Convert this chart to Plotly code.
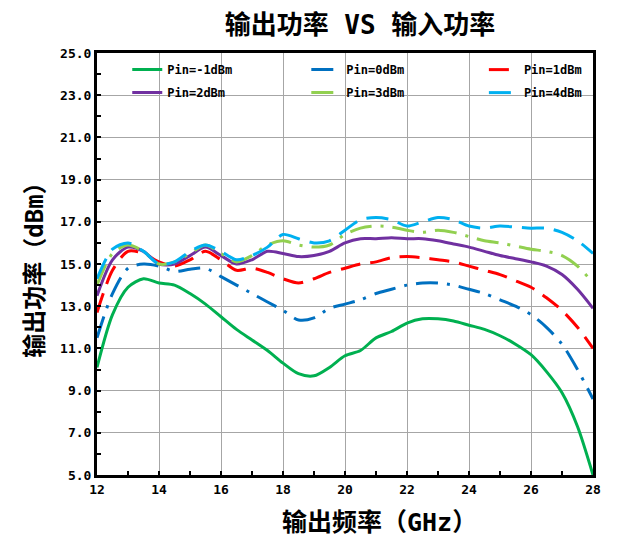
import plotly.graph_objects as go

freq = [12, 12.5, 13, 13.5, 14, 14.5, 15, 15.5, 16, 16.5, 17, 17.5, 18, 18.5, 19, 19.5,
        20, 20.5, 21, 21.5, 22, 22.5, 23, 23.5, 24, 24.5, 25, 25.5, 26, 26.5, 27, 27.5, 28]

pin_m1 = [10.1, 12.6, 13.9, 14.3, 14.1, 14.0, 13.6, 13.1, 12.5, 11.9, 11.4, 10.9, 10.3, 9.8, 9.7, 10.1,
          10.65, 10.9, 11.5, 11.8, 12.2, 12.4, 12.4, 12.3, 12.1, 11.9, 11.6, 11.2, 10.7, 9.9, 8.9, 7.3, 5.0]
pin_0 = [11.5, 13.6, 14.8, 15.0, 14.9, 14.65, 14.75, 14.8, 14.4, 14.0, 13.6, 13.2, 12.8, 12.35, 12.45, 12.9,
         13.1, 13.3, 13.6, 13.8, 14.0, 14.1, 14.1, 14.0, 13.8, 13.6, 13.3, 13.0, 12.6, 12.0, 11.2, 10.0, 8.6]
pin_1 = [12.7, 14.7, 15.6, 15.5, 15.1, 14.9, 15.2, 15.6, 15.2, 14.7, 14.8, 14.6, 14.3, 14.1, 14.3, 14.6,
         14.8, 15.0, 15.1, 15.3, 15.35, 15.3, 15.2, 15.1, 14.9, 14.7, 14.5, 14.2, 13.9, 13.4, 12.8, 12.0, 11.0]
pin_2 = [13.5, 15.2, 15.8, 15.6, 15.0, 15.0, 15.4, 15.8, 15.4, 15.0, 15.2, 15.6, 15.5, 15.35, 15.4, 15.6,
         16.0, 16.2, 16.2, 16.25, 16.2, 16.2, 16.1, 15.95, 15.8, 15.6, 15.4, 15.25, 15.1, 14.9, 14.5, 13.8, 12.9]
pin_3 = [14.0, 15.5, 15.9, 15.6, 15.0, 15.1, 15.5, 15.9, 15.5, 15.1, 15.4, 15.9, 16.1, 15.9, 15.8, 15.9,
         16.4, 16.7, 16.8, 16.75, 16.6, 16.5, 16.6, 16.5, 16.3, 16.1, 16.0, 15.85, 15.7, 15.6, 15.4, 14.9, 14.1]
pin_4 = [14.3, 15.7, 16.0, 15.6, 15.0, 15.1, 15.6, 15.9, 15.6, 15.2, 15.4, 15.8, 16.4, 16.2, 16.0, 16.1,
         16.6, 17.1, 17.2, 17.1, 16.8, 17.0, 17.2, 17.1, 16.8, 16.7, 16.8, 16.75, 16.7, 16.7, 16.5, 16.1, 15.5]

names = ["Pin=-1dBm", "Pin=0dBm", "Pin=1dBm", "Pin=2dBm", "Pin=3dBm", "Pin=4dBm"]
series = [pin_m1, pin_0, pin_1, pin_2, pin_3, pin_4]
colors = ["#00B050", "#0070C0", "#FF0000", "#7030A0", "#92D050", "#00B0F0"]
dashes = ["solid", "22px,9px,3px,9px", "20px,10px", "solid", "22px,9px,3px,9px", "22px,10px"]
legends = ["legend", "legend2", "legend3", "legend", "legend2", "legend3"]

y_ticks = [5, 7, 9, 11, 13, 15, 17, 19, 21, 23, 25]
x_ticks = [12, 14, 16, 18, 20, 22, 24, 26, 28]

FONT = "DejaVu Sans Mono, Noto Sans CJK SC, sans-serif"

fig = go.Figure()
for i, (n, s) in enumerate(zip(names, series)):
    fig.add_trace(go.Scatter(
        x=freq, y=s, name=n, mode="lines",
        line=dict(color=colors[i], width=3, dash=dashes[i], shape="spline", smoothing=0.8),
        legend=legends[i], legendgroup=n,
    ))

leg_common = dict(
    bgcolor="rgba(0,0,0,0)", orientation="v", y=0.995, yanchor="top", xanchor="left",
    font=dict(family=FONT, size=12, color="#000", weight="bold"), tracegroupgap=4,
)

fig.update_layout(
    width=633, height=538,
    margin=dict(l=89, r=48, t=45, b=71),
    paper_bgcolor="white", plot_bgcolor="white",
    title=dict(text="输出功率 VS 输入功率", x=0.556, xanchor="center",
               y=0.968, yanchor="middle",
               font=dict(family=FONT, size=26, color="#000", weight="bold")),
    legend=dict(x=0.061, **leg_common),
    legend2=dict(x=0.422, **leg_common),
    legend3=dict(x=0.780, **leg_common),
    showlegend=True,
    annotations=[dict(
        text="输出频率（GHz）", xref="paper", yref="paper", x=0.5705, y=0,
        xanchor="center", yanchor="middle", yshift=-47, showarrow=False,
        font=dict(family=FONT, size=25, color="#000", weight="bold"),
    )],
)

fig.update_xaxes(
    range=[12, 28], tickvals=x_ticks, automargin=False,
    showgrid=True, gridcolor="#A6A6A6", gridwidth=1,
    showline=True, linecolor="#000", linewidth=3, mirror=True,
    ticks="inside", ticklen=4, tickcolor="#000", tickwidth=1.5,
    minor=dict(dtick=1, tick0=12, ticks="inside", ticklen=4, tickcolor="#000", showgrid=False),
    tickfont=dict(family=FONT, size=13, color="#000", weight="bold"),
    zeroline=False,
)
fig.update_yaxes(
    range=[5, 25], tickvals=y_ticks, tickformat=".1f", automargin=False,
    showgrid=True, gridcolor="#A6A6A6", gridwidth=1,
    showline=True, linecolor="#000", linewidth=3, mirror=True,
    ticks="inside", ticklen=4, tickcolor="#000", tickwidth=1.5,
    minor=dict(dtick=1, tick0=5, ticks="inside", ticklen=4, tickcolor="#000", showgrid=False),
    tickfont=dict(family=FONT, size=13, color="#000", weight="bold"),
    zeroline=False,
    title=dict(text="输出功率（dBm）", standoff=10,
               font=dict(family=FONT, size=24, color="#000", weight="bold")),
)

fig.write_html("out.html")
